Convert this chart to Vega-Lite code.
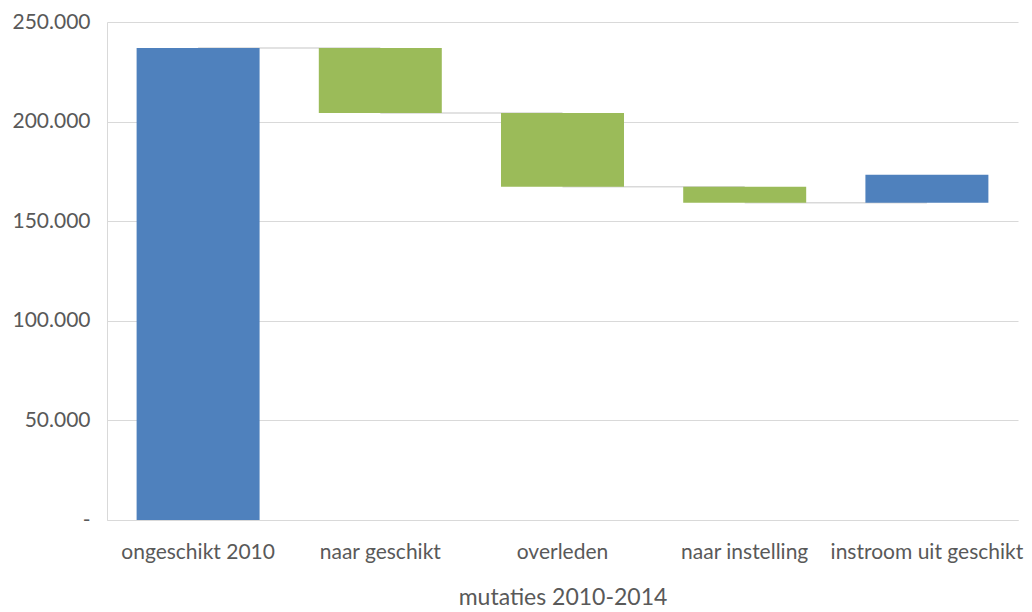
{
  "$schema": "https://vega.github.io/schema/vega-lite/v6.json",
  "autosize": "none",
  "width": 911,
  "height": 498,
  "padding": {"left": 107, "top": 22, "right": 14, "bottom": 92},
  "background": "white",
  "config": {
    "locale": {"number": {"decimal": ",", "thousands": ".", "grouping": [3], "currency": ["€", ""]}},
    "view": {"stroke": null},
    "font": "Lato"
  },
  "data": {
    "values": [
      {"cat": "ongeschikt 2010", "start": 0, "end": 237000, "type": "total", "next": "naar geschikt", "level": 237000},
      {"cat": "naar geschikt", "start": 237000, "end": 204300, "type": "delta", "next": "overleden", "level": 204300},
      {"cat": "overleden", "start": 204300, "end": 167300, "type": "delta", "next": "naar instelling", "level": 167300},
      {"cat": "naar instelling", "start": 167300, "end": 159200, "type": "delta", "next": "instroom uit geschikt", "level": 159200},
      {"cat": "instroom uit geschikt", "start": 159200, "end": 173300, "type": "total", "next": null, "level": null}
    ]
  },
  "encoding": {
    "x": {
      "field": "cat", "type": "nominal", "sort": null,
      "scale": {"paddingInner": 0.325, "paddingOuter": 0.1625},
      "axis": {
        "title": "mutaties 2010-2014", "labelAngle": 0, "ticks": false,
        "domainColor": "#D9D9D9", "labelColor": "#595959", "labelFontSize": 21,
        "labelPadding": 21, "labelLimit": 400, "labelOverlap": false,
        "titleColor": "#595959", "titleFontSize": 23,
        "titleFontWeight": "normal", "titlePadding": 24, "labelFont": "Lato", "titleFont": "Lato"
      }
    }
  },
  "layer": [
    {
      "transform": [{"filter": "datum.next != null"}],
      "mark": {"type": "rule", "color": "#D9D9D9", "strokeWidth": 1.5},
      "encoding": {
        "x2": {"field": "next"},
        "y": {"field": "level", "type": "quantitative"}
      }
    },
    {
      "mark": {"type": "bar"},
      "encoding": {
        "y": {
          "field": "start", "type": "quantitative",
          "scale": {"domain": [0, 250000], "nice": false},
          "axis": {
            "title": null, "values": [0, 50000, 100000, 150000, 200000, 250000],
            "format": ",.0f",
            "labelExpr": "datum.value == 0 ? '-' : datum.label",
            "ticks": false, "domainColor": "#D9D9D9", "gridColor": "#D9D9D9",
            "labelColor": "#595959", "labelFontSize": 21, "labelPadding": 17,
            "labelFont": "Lato"
          }
        },
        "y2": {"field": "end"},
        "color": {
          "field": "type", "type": "nominal",
          "scale": {"domain": ["total", "delta"], "range": ["#4F81BD", "#9BBB59"]},
          "legend": null
        }
      }
    }
  ]
}
